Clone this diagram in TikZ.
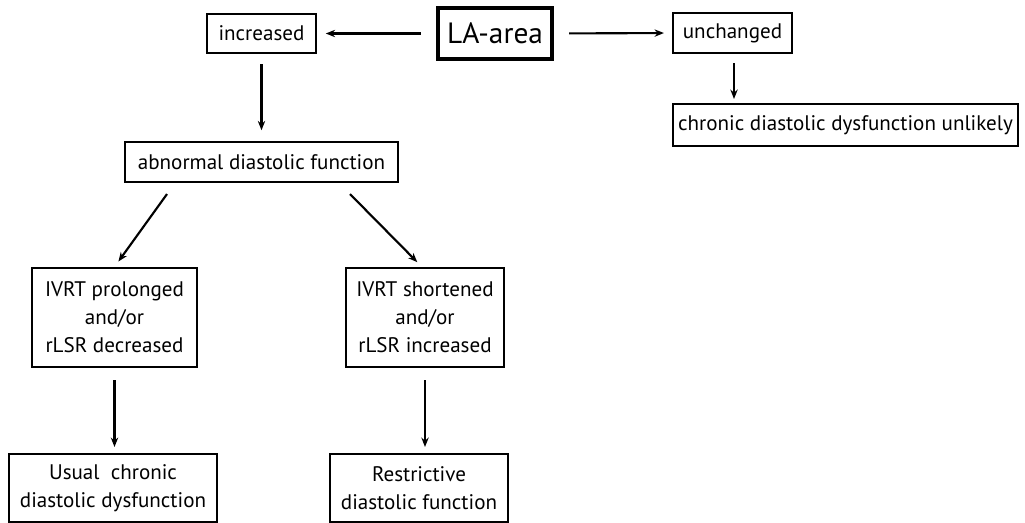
\documentclass[tikz,border=0pt]{standalone}
\usepackage{fontspec}
\setmainfont{PT Sans}
\usetikzlibrary{arrows.meta}
\begin{document}
\begin{tikzpicture}[x=0.75pt,y=-0.75pt,
  box/.style={draw,line width=1.6pt,inner sep=0pt,align=center,font=\fontsize{15.8}{21}\selectfont},
  mainbox/.style={draw,line width=3.6pt,inner sep=0pt,align=center,font=\fontsize{22}{24}\selectfont},
  arr/.style={line width=1.6pt,-{Stealth[length=7pt,width=5.5pt]}}]
\useasboundingbox (0,0) rectangle (1025,523);
\node[mainbox,minimum width=114*0.75pt,minimum height=51*0.75pt] (la) at (495,33.5) {LA-area};
\node[box,minimum width=109*0.75pt,minimum height=39*0.75pt] (inc) at (261.5,33.5) {increased};
\node[box,minimum width=119*0.75pt,minimum height=40*0.75pt] (unch) at (732.5,33) {unchanged};
\node[box,minimum width=345*0.75pt,minimum height=42*0.75pt] (unl) at (845.5,125) {chronic diastolic dysfunction unlikely};
\node[box,minimum width=273*0.75pt,minimum height=40*0.75pt] (abn) at (261.5,162) {abnormal diastolic function};
\node[box,minimum width=165*0.75pt,minimum height=99*0.75pt] (ivp) at (114.5,317.5) {IVRT prolonged\\and/or\\rLSR decreased};
\node[box,minimum width=158*0.75pt,minimum height=99*0.75pt] (ivs) at (425,317.5) {IVRT shortened\\and/or\\rLSR increased};
\node[box,minimum width=208*0.75pt,minimum height=68*0.75pt] (usu) at (113,488) {Usual\ \ chronic\\diastolic dysfunction};
\node[box,minimum width=178*0.75pt,minimum height=68*0.75pt] (res) at (419,488) {Restrictive\\diastolic function};
\draw[arr,shorten <=11pt,shorten >=6.5pt] (la.west) -- (inc.east);
\draw[arr,shorten <=11pt,shorten >=6pt] (la.east) -- (unch.west);
\draw[arr,shorten <=7.5pt,shorten >=8pt] (inc.south) -- (abn.north);
\draw[arr,shorten <=7pt,shorten >=3pt] ([xshift=1.5*0.75pt]unch.south) -- ([xshift=1.5*0.75pt]unch.south |- unl.north);
\draw[arr,shorten >=5pt] ([shift={(-94.5,11)}]abn.south) -- (ivp.north);
\draw[arr,shorten >=5pt] ([shift={(88.5,11)}]abn.south) -- ([shift={(-3,0)}]ivs.north);
\draw[arr,shorten <=9pt,shorten >=4.5pt] (ivp.south) -- (ivp.south |- usu.north);
\draw[arr,shorten <=9pt,shorten >=4.5pt] (ivs.south) -- (ivs.south |- res.north);
\end{tikzpicture}
\end{document}
